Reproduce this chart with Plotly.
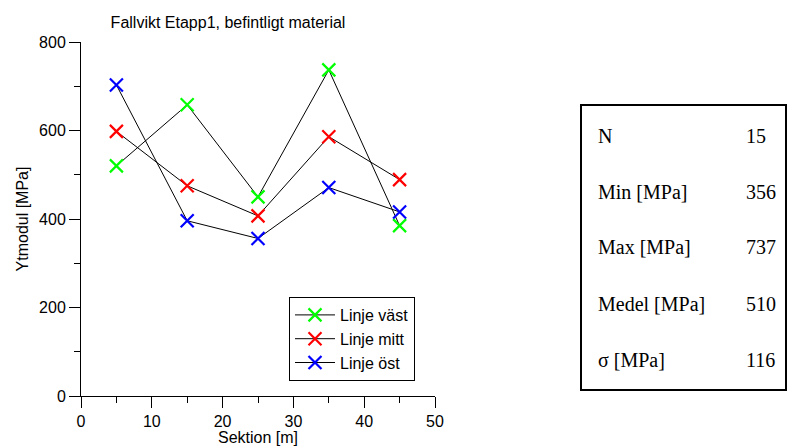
import plotly.graph_objects as go

# Sektion positions [m]
sektion = [5, 15, 25, 35, 45]

# Ytmodul [MPa] per measuring line
linje_vast = [520, 658, 450, 737, 385]
linje_mitt = [598, 475, 407, 586, 489]
linje_ost = [703, 396, 356, 471, 416]

series_names = ["Linje väst", "Linje mitt", "Linje öst"]
series_colors = ["#00ff00", "#ff0000", "#0000ff"]

# Summary statistics table
stat_labels = ["N", "Min [MPa]", "Max [MPa]", "Medel [MPa]", "σ [MPa]"]
stat_values = ["15", "356", "737", "510", "116"]

W, H = 790, 446
L, R, T, B = 81, 435, 42, 396  # plot area in pixels


def px(xp):
    return (xp - L) / (R - L)


def py(yp):
    return (B - yp) / (B - T)


fig = go.Figure()
for name, vals, col in zip(series_names, [linje_vast, linje_mitt, linje_ost], series_colors):
    fig.add_trace(go.Scatter(
        x=sektion, y=vals, name=name, mode="lines+markers",
        line=dict(color="black", width=1),
        marker=dict(symbol="x-thin", size=13, color=col,
                    line=dict(color=col, width=2.2)),
    ))

axis_common = dict(
    showgrid=False, zeroline=False, showline=True, linecolor="black", linewidth=1,
    ticks="outside", ticklen=11, tickcolor="black", tickwidth=1,
    tickfont=dict(family="Arial", size=16, color="black"),
    minor=dict(ticks="outside", ticklen=6, tickcolor="black", tickwidth=1),
    automargin=False,
)

fig.update_xaxes(range=[0, 50], tickvals=[0, 10, 20, 30, 40, 50],
                 minor_tickvals=[5, 15, 25, 35, 45],
                 title=dict(text="Sektion [m]", font=dict(family="Arial", size=16, color="black"), standoff=0),
                 **axis_common)
fig.update_yaxes(range=[0, 800], tickvals=[0, 200, 400, 600, 800],
                 minor_tickvals=[100, 300, 500, 700],
                 title=dict(text="Ytmodul [MPa]", font=dict(family="Arial", size=16, color="black"), standoff=6),
                 **axis_common)

# Statistics box
fig.add_shape(type="rect", xref="paper", yref="paper",
              x0=px(581), x1=px(786), y0=py(105), y1=py(390),
              line=dict(color="black", width=2), fillcolor="white", layer="below")
row_y = [136, 192, 247, 304, 360]
for lab, val, yy in zip(stat_labels, stat_values, row_y):
    fig.add_annotation(xref="paper", yref="paper", x=px(596), y=py(yy), text=lab,
                       showarrow=False, xanchor="left", yanchor="middle",
                       font=dict(family="Liberation Serif", size=20, color="black"))
    fig.add_annotation(xref="paper", yref="paper", x=px(744), y=py(yy), text=val,
                       showarrow=False, xanchor="left", yanchor="middle",
                       font=dict(family="Liberation Serif", size=20, color="black"))

fig.update_layout(
    width=W, height=H,
    margin=dict(l=L, r=W - R, t=T, b=H - B, pad=0),
    paper_bgcolor="white", plot_bgcolor="white",
    title=dict(text="Fallvikt Etapp1, befintligt material", x=228 / W, xanchor="center",
               y=1 - 22 / H, yanchor="middle",
               font=dict(family="Arial", size=16, color="black")),
    showlegend=True,
    legend=dict(x=px(289), y=py(297), xanchor="left", yanchor="top",
                bordercolor="black", borderwidth=1, bgcolor="white",
                font=dict(family="Arial", size=16, color="black"),
                tracegroupgap=0, itemwidth=40),
)

fig.write_html("out.html")
